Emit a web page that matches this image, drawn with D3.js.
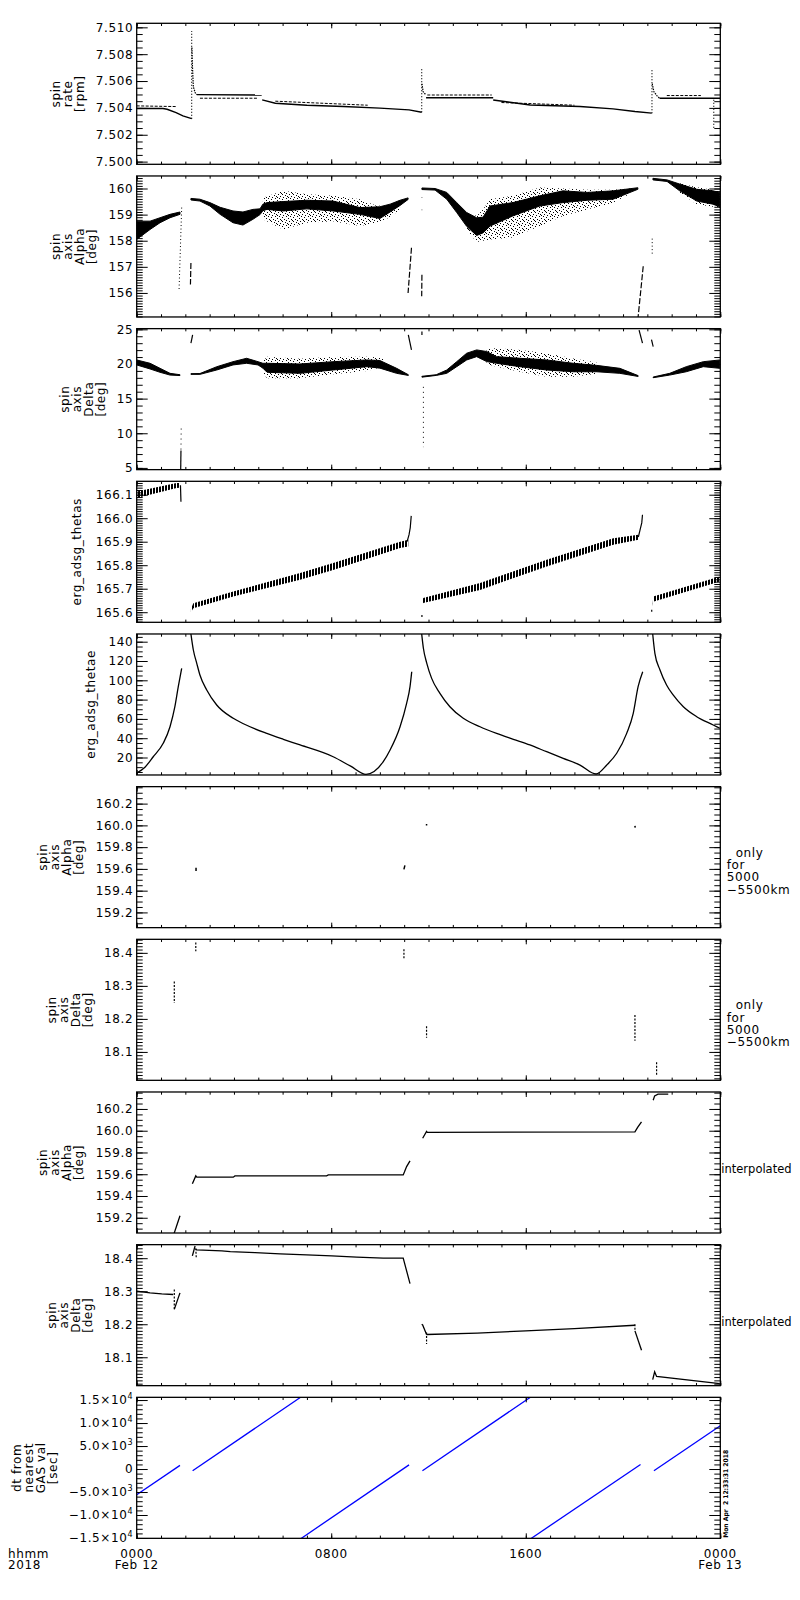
<!DOCTYPE html>
<html>
<head>
<meta charset="utf-8">
<script src="https://cdn.jsdelivr.net/npm/d3@7"></script>
<style>
  body { margin: 0; background: #fff; }
  text { font-family: "DejaVu Sans", sans-serif; font-size: 12px; letter-spacing: 0.6px; fill: #000; }
  .tick text { font-family: "DejaVu Sans", sans-serif; font-size: 12px; letter-spacing: 0.6px; }
  .tick line { stroke: #000; stroke-width: 1; }
</style>
</head>
<body>
<div id="chart"></div>
<script>
// x axis: hours after 0000 UT on Feb 12 2018
var timeTicks = [0, 8, 16, 24];
var timeLabels = ["0000", "0800", "1600", "0000"];
var dateLabels = ["Feb 12", "", "", "Feb 13"];

// panel titles, ranges and tick steps
var panelTitles = [
  ["spin", "rate", "[rpm]"],
  ["spin", "axis", "Alpha", "[deg]"],
  ["spin", "axis", "Delta", "[deg]"],
  ["erg_adsg_thetas"],
  ["erg_adsg_thetae"],
  ["spin", "axis", "Alpha", "[deg]"],
  ["spin", "axis", "Delta", "[deg]"],
  ["spin", "axis", "Alpha", "[deg]"],
  ["spin", "axis", "Delta", "[deg]"],
  ["dt from", "nearest", "GAS val", "[sec]"]
];
var panelDomains = [
  [7.4998, 7.5103], [155.08, 160.48], [4.75, 25.1], [165.557, 166.157], [1.9, 148],
  [159.06, 160.356], [18.014, 18.441], [159.06, 160.356], [18.014, 18.441], [-15070, 15590]
];
var panelMajor = [0.002, 1, 5, 0.1, 20, 0.2, 0.1, 0.2, 0.1, 5000];
var panelMinor = [0.0005, 0.1, 1, 0.01, 5, 0.05, 0.01, 0.05, 0.01, 1000];
var panelFormat = [".3f", "d", "d", ".1f", "d", ".1f", ".1f", ".1f", ".1f", null];
var sideNotes = [null, null, null, null, null,
  ["\u00a0\u00a0only", "for", "5000", "\u22125500km"],
  ["\u00a0\u00a0only", "for", "5000", "\u22125500km"],
  ["interpolated"], ["interpolated"], null];

// dt panel tick labels
var dtTickVals = [15000, 10000, 5000, 0, -5000, -10000, -15000];
var dtTickText = ["1.5\u00d710", "1.0\u00d710", "5.0\u00d710", "0", "\u22125.0\u00d710", "\u22121.0\u00d710", "\u22121.5\u00d710"];
var dtTickExp = ["4", "4", "3", "", "3", "4", "4"];

// panel 1: spin rate [rpm], [hour, value]
var rateMain = [
  [[0, 7.50395], [1.08, 7.50395], [1.25, 7.5039], [1.62, 7.50365], [1.90, 7.5034], [2.26, 7.5032]],
  [[2.47, 7.50499], [5.14, 7.50496]],
  [[5.16, 7.5046], [5.7, 7.50435], [7.0, 7.5042], [8.5, 7.5041], [10.0, 7.50398], [11.2, 7.50385], [11.72, 7.50368]],
  [[11.9, 7.50476], [14.66, 7.50476]],
  [[14.66, 7.50459], [16.18, 7.50422], [18.23, 7.5041], [19.59, 7.50393], [20.49, 7.50373], [21.18, 7.50361]],
  [[21.5, 7.50472], [24, 7.50472]]
];
var rateSide = [
  [[0, 7.50415], [1.62, 7.5041]],
  [[2.60, 7.50472], [5.0, 7.50472]],
  [[5.7, 7.5045], [9.5, 7.5042]],
  [[11.95, 7.50496], [14.6, 7.50496]],
  [[15.0, 7.5044], [18.0, 7.5042]],
  [[21.8, 7.50492], [23.2, 7.50492]]
];
var rateSpikes = [
  [[2.26, 7.5032], [2.26, 7.50973]],
  [[11.72, 7.50368], [11.72, 7.50694]],
  [[21.19, 7.50361], [21.19, 7.50694]],
  [[23.73, 7.5046], [23.73, 7.5024]]
];
var rateDecay = [
  [[2.27, 7.5085], [2.29, 7.5072], [2.33, 7.50556], [2.41, 7.50511], [2.47, 7.50499]],
  [[11.73, 7.5058], [11.78, 7.5052], [11.9, 7.50496]],
  [[21.2, 7.5058], [21.27, 7.5052], [21.4, 7.5049], [21.5, 7.50472]]
];

// panel 2: spin axis alpha, bands [hour, low, high]
var alphaCore = [
  [[0, 158.05, 158.75], [0.55, 158.43, 158.75], [0.96, 158.69, 158.88], [1.37, 158.88, 159.01], [1.78, 159.01, 159.10]],
  [[2.23, 159.56, 159.62], [2.60, 159.52, 159.59], [3.01, 159.33, 159.46], [3.43, 159.01, 159.28], [3.96, 158.69, 159.14],
   [4.37, 158.6, 159.1], [4.78, 158.82, 159.2], [5.07, 159.0, 159.22], [5.19, 159.15, 159.4], [5.36, 159.2, 159.46],
   [6.02, 159.14, 159.5], [7.0, 159.22, 159.55], [8.07, 159.14, 159.52], [9.18, 159.01, 159.27], [10.0, 158.85, 159.3],
   [10.42, 159.1, 159.4], [10.83, 159.35, 159.55], [11.16, 159.58, 159.64]],
  [[11.73, 159.96, 160.02], [12.27, 159.94, 160.0], [12.75, 159.59, 159.85], [13.16, 159.08, 159.46], [13.57, 158.55, 159.08],
   [13.98, 158.2, 158.88], [14.24, 158.3, 158.9], [14.53, 158.56, 159.33], [15.47, 158.95, 159.46], [16.58, 159.33, 159.72],
   [17.53, 159.46, 159.91], [18.52, 159.55, 159.85], [19.59, 159.59, 159.91], [20.61, 159.97, 160.03]],
  [[21.23, 160.33, 160.39], [21.81, 160.27, 160.33], [22.33, 159.91, 160.17], [23.03, 159.52, 159.97], [23.70, 159.4, 159.91], [23.98, 159.3, 159.85]]
];
var alphaSpread = [
  [[5.19, 158.82, 159.65], [6.02, 158.43, 159.91], [7.0, 158.69, 159.78], [8.07, 158.75, 159.72], [9.18, 158.56, 159.59],
   [9.88, 158.69, 159.33], [10.42, 158.9, 159.4], [10.83, 159.2, 159.55]],
  [[13.57, 158.4, 159.1], [13.98, 157.95, 158.95], [14.24, 158.0, 159.2], [14.53, 158.05, 159.59], [15.47, 158.12, 159.72],
   [16.58, 158.56, 160.04], [17.53, 158.95, 160.0], [18.52, 159.2, 159.95], [19.59, 159.45, 159.95], [20.3, 159.8, 160.0]],
  [[22.33, 159.85, 160.2], [23.03, 159.4, 160.05], [23.7, 159.3, 159.95], [23.98, 159.25, 159.9]]
];
var alphaDrops = [
  [[1.85, 159.27], [1.74, 156.06]],
  [[11.73, 159.66], [11.73, 159.64]],
  [[11.73, 159.19], [11.73, 159.17]],
  [[21.2, 158.08], [21.2, 157.41]]
];
var alphaDashes = [
  [[2.23, 157.15], [2.21, 156.32]],
  [[11.30, 157.73], [11.16, 156.0]],
  [[11.73, 156.7], [11.72, 155.87]],
  [[20.83, 157.02], [20.62, 155.08]]
];

// panel 3: spin axis delta
var deltaCore = [
  [[0, 19.86, 20.58], [0.55, 19.28, 20.1], [0.96, 18.8, 19.37], [1.37, 18.4, 18.65], [1.78, 18.33, 18.45]],
  [[2.23, 18.5, 18.6], [2.60, 18.5, 18.62], [3.29, 19.13, 19.6], [3.96, 19.86, 20.33], [4.52, 20.1, 20.82],
   [4.99, 19.86, 20.33], [5.19, 19.4, 20.1], [5.36, 18.8, 20.1], [6.71, 18.65, 20.0], [8.07, 19.13, 20.33],
   [9.47, 19.61, 20.58], [10.0, 19.4, 20.5], [10.69, 18.65, 19.37], [11.17, 18.35, 18.45]],
  [[11.73, 18.1, 18.22], [12.32, 18.35, 18.45], [12.75, 18.65, 19.13], [13.16, 19.61, 20.33], [13.57, 20.58, 21.55],
   [13.98, 21.06, 22.03], [14.39, 20.35, 21.8], [14.8, 20.1, 21.06], [15.76, 19.61, 20.82], [16.86, 19.13, 20.58],
   [17.95, 18.88, 20.1], [18.91, 18.88, 19.8], [19.87, 18.65, 19.37], [20.62, 18.2, 18.32]],
  [[21.24, 18.02, 18.12], [21.92, 18.4, 18.65], [22.6, 18.88, 19.61], [23.3, 19.61, 20.33], [23.98, 19.37, 20.58]]
];
var deltaSpread = [
  [[5.19, 18.8, 20.4], [5.36, 17.93, 21.06], [6.71, 17.93, 20.77], [8.07, 18.5, 21.0], [9.47, 19.0, 21.06], [10.13, 19.6, 20.9]],
  [[14.39, 20.0, 22.2], [14.8, 19.61, 22.27], [15.76, 18.88, 22.03], [16.86, 18.16, 21.55], [17.95, 18.16, 20.8], [18.91, 18.6, 20.2]]
];
var deltaDrops = [
  [[1.83, 10.68], [1.82, 7.5]],
  [[11.79, 16.7], [11.79, 8.0]]
];
var deltaDashes = [
  [[1.82, 7.5], [1.81, 4.8]],
  [[2.30, 24.2], [2.23, 23.0]],
  [[11.17, 24.2], [11.30, 22.03]],
  [[11.73, 24.68], [11.73, 24.2]],
  [[20.66, 24.9], [20.80, 23.0]],
  [[21.17, 23.5], [21.24, 22.5]]
];

// panel 4: erg_adsg_thetas
var thetasBand = [
  [[0, 166.086, 166.114], [1.64, 166.129, 166.15], [1.78, 166.13, 166.15]],
  [[2.23, 165.60, 165.615], [2.33, 165.617, 165.638], [3.97, 165.667, 165.688], [6.72, 165.738, 165.767],
   [8.08, 165.78, 165.809], [10.83, 165.873, 165.9], [11.17, 165.88, 165.908]],
  [[11.75, 165.62, 165.628], [11.78, 165.639, 165.66], [14.12, 165.695, 165.724], [16.86, 165.795, 165.823],
   [19.6, 165.887, 165.915], [20.63, 165.908, 165.93]],
  [[21.22, 165.625, 165.635], [21.24, 165.645, 165.667], [23.98, 165.731, 165.752]]
];
var thetasLines = [
  [[1.80, 166.14], [1.82, 166.07]],
  [[11.12, 165.9], [11.2, 165.93], [11.25, 165.96], [11.29, 166.01]],
  [[11.73, 165.588], [11.73, 165.58]],
  [[20.63, 165.92], [20.7, 165.95], [20.77, 165.98], [20.80, 166.015]],
  [[21.18, 165.61], [21.18, 165.602]]
];

// panel 5: erg_adsg_thetae
var thetae = [
  [[0, 4], [0.34, 10], [0.68, 20.8], [1.09, 34.7], [1.37, 51.9], [1.57, 72.6], [1.71, 93.4], [1.85, 112.4]],
  [[2.23, 148], [2.33, 131.4], [2.47, 117.6], [2.60, 105.5], [2.88, 90], [3.29, 74.4], [3.97, 60.6], [4.66, 51.9],
   [5.35, 45], [6.03, 38.9], [6.72, 33], [8.08, 20.8], [8.8, 11], [9.43, 2.6], [10.14, 15.7], [10.42, 27.8],
   [10.83, 51.9], [11.10, 76.2], [11.24, 93.4], [11.31, 108.9]],
  [[11.72, 148], [11.79, 133.2], [11.93, 117.6], [12.13, 102], [12.47, 86.5], [12.88, 72.6], [13.43, 60.6],
   [14.12, 51.9], [14.80, 45], [15.49, 38.9], [16.17, 33], [16.86, 26], [17.54, 19.2], [18.23, 12.2], [18.89, 2.9],
   [19.33, 12.2], [19.74, 24.4], [20.15, 45], [20.42, 65.8], [20.62, 93.4], [20.81, 108.9]],
  [[21.22, 148], [21.31, 128], [21.52, 110.7], [21.79, 95.1], [22.06, 84.8], [22.48, 72.6], [23.03, 62.3], [23.71, 53.7], [23.98, 50.3]]
];

// panels 6, 7: only for 5000-5500 km
var alphaOnly = [
  [[2.44, 159.61], [2.44, 159.58]],
  [[10.99, 159.596], [11.03, 159.632]],
  [[11.92, 160.012], [11.92, 160.0]],
  [[20.49, 159.995], [20.5, 159.98]]
];
var deltaOnly = [
  [[1.546, 18.313], [1.546, 18.248]],
  [[2.43, 18.431], [2.43, 18.405]],
  [[10.99, 18.411], [10.99, 18.383]],
  [[11.92, 18.178], [11.92, 18.143]],
  [[20.49, 18.212], [20.49, 18.134]],
  [[21.38, 18.069], [21.38, 18.027]]
];

// panels 8, 9: interpolated
var alphaInterp = [
  [[1.5, 159.03], [1.78, 159.219]],
  [[2.29, 159.512], [2.43, 159.585], [2.47, 159.573], [3.97, 159.573], [4.04, 159.585], [7.81, 159.585],
   [7.88, 159.594], [10.96, 159.594], [11.01, 159.62], [11.1, 159.67], [11.24, 159.723]],
  [[11.76, 159.931], [11.92, 159.994], [11.95, 159.985], [20.49, 159.99], [20.6, 160.03], [20.76, 160.082]],
  [[21.24, 160.28], [21.3, 160.32], [21.44, 160.336], [21.86, 160.336]]
];
var deltaInterp = [
  [[0, 18.30], [0.55, 18.295], [1.03, 18.292], [1.50, 18.29]],
  [[1.546, 18.245], [1.78, 18.295]],
  [[2.29, 18.407], [2.40, 18.437]],
  [[2.43, 18.427], [2.47, 18.425], [3.5, 18.422], [3.85, 18.42], [4.87, 18.417], [5.9, 18.413], [6.99, 18.41],
   [8.02, 18.407], [9.05, 18.403], [10.14, 18.4], [10.96, 18.4], [11.24, 18.323]],
  [[11.72, 18.2], [11.76, 18.198], [11.92, 18.169]],
  [[11.92, 18.169], [14.0, 18.173], [16.0, 18.18], [18.0, 18.187], [20.49, 18.197]],
  [[20.49, 18.18], [20.76, 18.121]],
  [[21.22, 18.032], [21.3, 18.056], [21.38, 18.042], [23.98, 18.02]]
];
var deltaInterpDots = [
  [[1.546, 18.305], [1.546, 18.245]],
  [[2.43, 18.43], [2.45, 18.40]],
  [[11.92, 18.175], [11.92, 18.14]],
  [[20.49, 18.2], [20.49, 18.18]]
];

// panel 10: dt from nearest GAS val [sec]
var dtSegments = [
  [[0, -5590], [1.78, 790]],
  [[2.30, -370], [6.74, 15600]],
  [[6.76, -15100], [11.20, 900]],
  [[11.75, -370], [16.19, 15600]],
  [[16.22, -15100], [20.72, 990]],
  [[21.27, -370], [24, 9400]]
];

var stamp = "Mon Apr  2 12:33:31 2018";

// layout
var L = 136.7, R = 720.3, H = 141, top0 = 23.3, gap = 152.67;
var titleX = [84, 96, 105, 81, 95, 83, 92, 83, 92, 57];

var x = d3.scaleLinear().domain([0, 24]).range([L, R]);

var svg = d3.select("#chart").append("svg")
  .attr("width", 800).attr("height", 1600)
  .style("color", "#000");
var defs = svg.append("defs");

// speckle texture for the scattered spin axis samples
var speckle = defs.append("pattern").attr("id", "speckle")
  .attr("patternUnits", "userSpaceOnUse").attr("width", 11).attr("height", 9);
[[0, 0], [4, 0], [7, 1], [2, 2], [9, 3], [5, 3], [0, 4], [3, 5], [7, 5], [10, 6],
 [1, 7], [5, 7], [8, 8], [6, 4], [2, 8]].forEach(function(p) {
  speckle.append("rect").attr("x", p[0]).attr("y", p[1]).attr("width", 1).attr("height", 1).attr("fill", "#000");
});
// vertical hatch for the thetas sawtooth
var hatch = defs.append("pattern").attr("id", "hatch")
  .attr("patternUnits", "userSpaceOnUse").attr("width", 3).attr("height", 4);
hatch.append("rect").attr("width", 2).attr("height", 4).attr("fill", "#000");

function tickRange(dom, step) {
  var lo = Math.ceil(dom[0] / step - 1e-6), hi = Math.floor(dom[1] / step + 1e-6);
  return d3.range(lo, hi + 1).map(function(k) { return +(k * step).toFixed(6); });
}

function addLines(g, y, segs, width, dash, color, curve) {
  var line = d3.line().x(function(d) { return x(d[0]); }).y(function(d) { return y(d[1]); });
  if (curve) line.curve(curve);
  g.selectAll(null).data(segs).enter().append("path")
    .attr("d", line)
    .attr("fill", "none")
    .attr("stroke", color || "#000")
    .attr("stroke-width", width)
    .attr("stroke-dasharray", dash || null);
}

function addBands(g, y, segs, fill, strokeW) {
  var area = d3.area().x(function(d) { return x(d[0]); })
    .y0(function(d) { return y(d[1]); }).y1(function(d) { return y(d[2]); });
  g.selectAll(null).data(segs).enter().append("path")
    .attr("d", area)
    .attr("fill", fill)
    .attr("stroke", strokeW ? "#000" : "none")
    .attr("stroke-width", strokeW || 0);
}

var drawers = [
  function(g, y) {
    addLines(g, y, rateSide, 1, "3,1.5");
    addLines(g, y, rateMain, 1.4);
    addLines(g, y, rateDecay, 1.2, "1.5,1");
    addLines(g, y, rateSpikes, 1.2, "1,2");
  },
  function(g, y) {
    addBands(g, y, alphaSpread, "url(#speckle)");
    addBands(g, y, alphaCore, "#000", 1);
    addLines(g, y, alphaDrops, 1, "1,2.5");
    addLines(g, y, alphaDashes, 1.2, "6,2");
  },
  function(g, y) {
    addBands(g, y, deltaSpread, "url(#speckle)");
    addBands(g, y, deltaCore, "#000", 1);
    addLines(g, y, deltaDrops, 1, "1,4");
    addLines(g, y, deltaDashes, 1.2);
  },
  function(g, y) {
    addBands(g, y, thetasBand, "url(#hatch)");
    addLines(g, y, thetasLines, 1.2);
  },
  function(g, y) { addLines(g, y, thetae, 1.3, null, null, d3.curveMonotoneX); },
  function(g, y) { addLines(g, y, alphaOnly, 1.5); },
  function(g, y) { addLines(g, y, deltaOnly, 1.2, "2,1.5"); },
  function(g, y) { addLines(g, y, alphaInterp, 1.3); },
  function(g, y) {
    addLines(g, y, deltaInterp, 1.3);
    addLines(g, y, deltaInterpDots, 1.2, "2,1.5");
  },
  function(g, y) { addLines(g, y, dtSegments, 1.3, null, "#0000ff"); }
];

var hourTicks = d3.range(0, 25);

panelDomains.forEach(function(dom, i) {
  var t = top0 + i * gap;
  var y = d3.scaleLinear().domain(dom).range([t + H, t]);
  var g = svg.append("g");

  defs.append("clipPath").attr("id", "clip" + i)
    .append("rect").attr("x", L).attr("y", t).attr("width", R - L).attr("height", H);
  var plot = g.append("g").attr("clip-path", "url(#clip" + i + ")");
  drawers[i](plot, y);

  var majors = tickRange(dom, panelMajor[i]);
  var minors = tickRange(dom, panelMinor[i]);
  var fmt = panelFormat[i] ? d3.format(panelFormat[i]) : function() { return ""; };

  // left and right y ticks, pointing inward
  var axL = g.append("g").attr("transform", "translate(" + L + ",0)");
  axL.append("g").call(d3.axisLeft(y).tickValues(minors).tickSizeInner(-6).tickSizeOuter(0).tickFormat(""));
  axL.append("g").call(d3.axisLeft(y).tickValues(majors).tickSizeInner(-11).tickSizeOuter(0).tickPadding(3.5).tickFormat(fmt));
  var axR = g.append("g").attr("transform", "translate(" + R + ",0)");
  axR.append("g").call(d3.axisLeft(y).tickValues(minors).tickSizeInner(6).tickSizeOuter(0).tickFormat(""));
  axR.append("g").call(d3.axisLeft(y).tickValues(majors).tickSizeInner(11).tickSizeOuter(0).tickFormat(""));

  // top and bottom time ticks
  var axB = g.append("g").attr("transform", "translate(0," + (t + H) + ")");
  axB.append("g").call(d3.axisBottom(x).tickValues(hourTicks).tickSizeInner(-2.7).tickSizeOuter(0).tickFormat(""));
  axB.append("g").call(d3.axisBottom(x).tickValues(timeTicks).tickSizeInner(-5).tickSizeOuter(0).tickFormat(""));
  var axT = g.append("g").attr("transform", "translate(0," + t + ")");
  axT.append("g").call(d3.axisTop(x).tickValues(hourTicks).tickSizeInner(-2.7).tickSizeOuter(0).tickFormat(""));
  axT.append("g").call(d3.axisTop(x).tickValues(timeTicks).tickSizeInner(-5).tickSizeOuter(0).tickFormat(""));
  g.selectAll(".domain").remove();

  g.append("rect").attr("x", L).attr("y", t).attr("width", R - L).attr("height", H)
    .attr("fill", "none").attr("stroke", "#000").attr("stroke-width", 1.3);

  // y title, one rotated line per entry
  var lines = panelTitles[i], cy = t + H / 2;
  lines.forEach(function(s, j) {
    g.append("text")
      .attr("transform", "translate(" + (titleX[i] - (lines.length - 1 - j) * 12) + "," + cy + ") rotate(-90)")
      .attr("text-anchor", "middle")
      .text(s);
  });

  // notes on the right
  if (sideNotes[i]) {
    var n = sideNotes[i];
    n.forEach(function(s, j) {
      var tx = g.append("text")
        .attr("x", n.length > 1 ? R + 6.5 : R + 1)
        .attr("y", n.length > 1 ? t + 70 + j * 12.3 : t + 81)
        .style("white-space", "pre")
        .text(s);
      if (n.length === 1) tx.style("letter-spacing", "0").style("font-size", "11.5px");
    });
  }

  // dt panel labels with exponents
  if (i === 9) {
    dtTickVals.forEach(function(v, k) {
      var tx = g.append("text").attr("x", L - 3.5).attr("y", y(v) + 4.3).attr("text-anchor", "end");
      tx.append("tspan").text(dtTickText[k]);
      if (dtTickExp[k]) tx.append("tspan").attr("dy", -5).style("font-size", "8px").text(dtTickExp[k]);
    });

    var yb = t + H;
    timeTicks.forEach(function(h, k) {
      g.append("text").attr("x", x(h)).attr("y", yb + 19.5).attr("text-anchor", "middle").text(timeLabels[k]);
      if (dateLabels[k]) g.append("text").attr("x", x(h)).attr("y", yb + 31).attr("text-anchor", "middle").text(dateLabels[k]);
    });
    g.append("text").attr("x", 8).attr("y", yb + 19.5).text("hhmm");
    g.append("text").attr("x", 8).attr("y", yb + 31).text("2018");

    g.append("text")
      .attr("transform", "translate(" + (R + 8) + "," + (yb - 0.5) + ") rotate(-90)")
      .attr("textLength", 88).attr("lengthAdjust", "spacingAndGlyphs")
      .style("font-size", "6.5px").style("font-weight", "bold").style("letter-spacing", "0")
      .style("white-space", "pre")
      .text(stamp);
  }
});
</script>
</body>
</html>
